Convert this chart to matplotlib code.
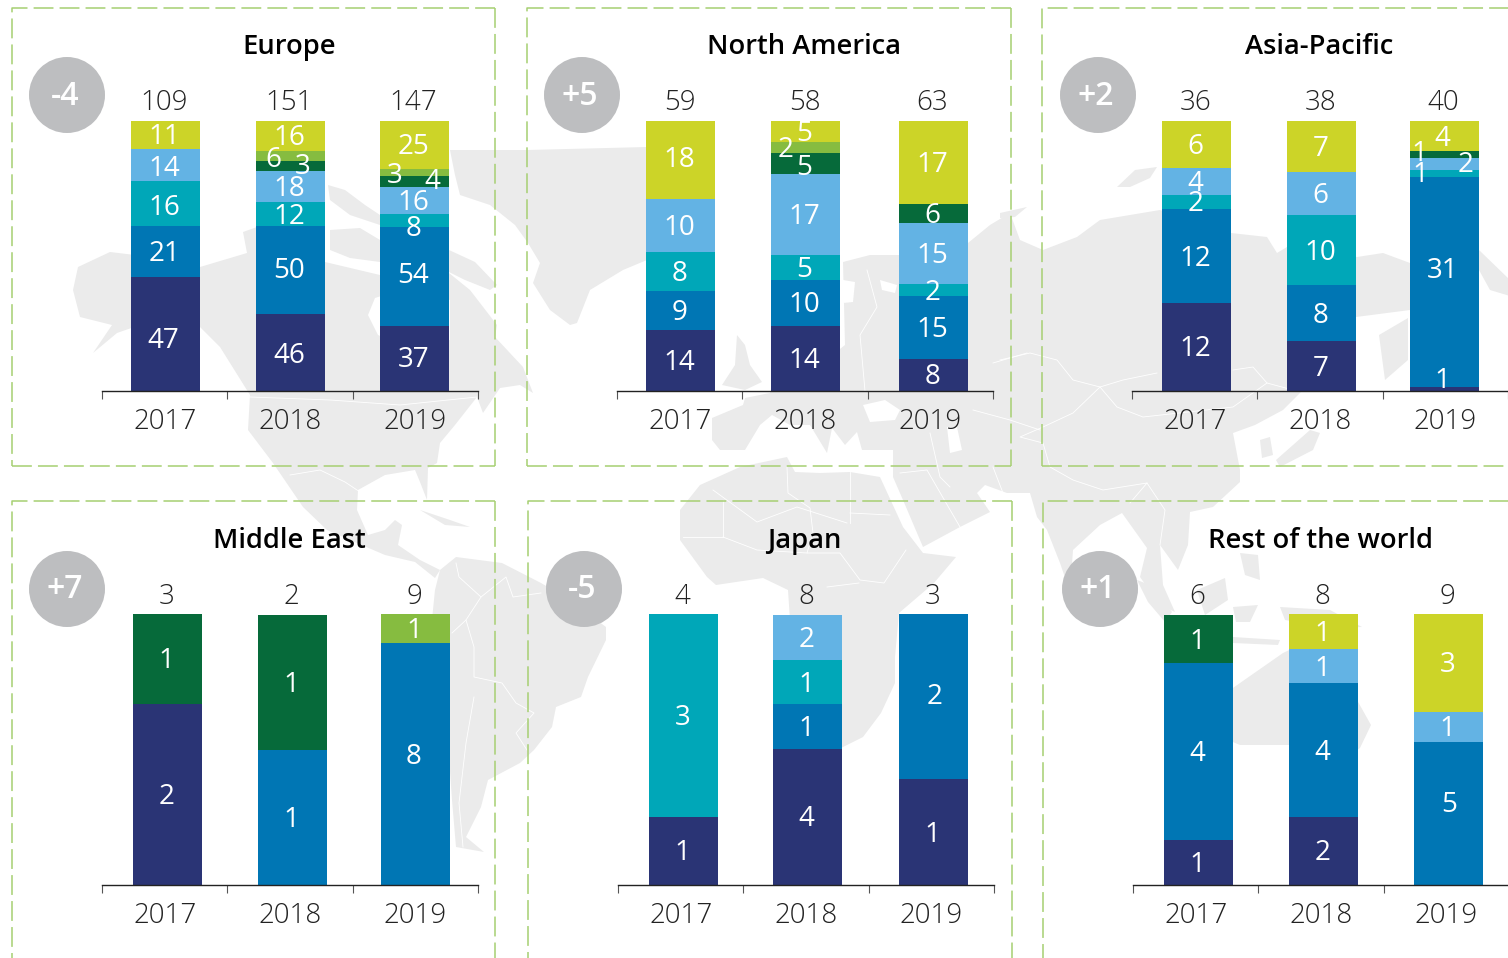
"""Stacked bars per region, 2017-2019, on a faint world map."""

import matplotlib
matplotlib.use("Agg")
import matplotlib.pyplot as plt
from matplotlib.patches import Circle, Polygon

plt.rcParams["font.family"] = ["Open Sans", "DejaVu Sans"]

W, H = 1508, 958
YEARS = ["2017", "2018", "2019"]
SERIES_COLORS = ["#2a3475", "#0076b4", "#00a7b8", "#63b3e4", "#066a3a", "#86bc40", "#ccd428"]

REGIONS = ["Europe", "North America", "Asia-Pacific", "Middle East", "Japan", "Rest of the world"]
CHANGES = ["-4", "+5", "+2", "+7", "-5", "+1"]

# bar totals per region
EUROPE_TOTALS = [109, 151, 147]
NAMERICA_TOTALS = [59, 58, 63]
ASIA_TOTALS = [36, 38, 40]
MIDEAST_TOTALS = [3, 2, 9]
JAPAN_TOTALS = [4, 8, 3]
REST_TOTALS = [6, 8, 9]

# printed numbers, bottom to top of the stack, 0 = no segment
EUROPE_LABELS = [[47, 21, 16, 14, 0, 0, 11], [46, 50, 12, 18, 3, 6, 16], [37, 54, 8, 16, 4, 3, 25]]
NAMERICA_LABELS = [[14, 9, 8, 10, 0, 0, 18], [14, 10, 5, 17, 5, 2, 5], [8, 15, 2, 15, 6, 0, 17]]
ASIA_LABELS = [[12, 12, 2, 4, 0, 0, 6], [7, 8, 10, 6, 0, 0, 7], [1, 31, 1, 2, 1, 0, 4]]
MIDEAST_LABELS = [[2, 0, 0, 0, 1, 0, 0], [0, 1, 0, 0, 1, 0, 0], [0, 8, 0, 0, 0, 1, 0]]
JAPAN_LABELS = [[1, 0, 3, 0, 0, 0, 0], [4, 1, 1, 2, 0, 0, 0], [1, 2, 0, 0, 0, 0, 0]]
REST_LABELS = [[1, 4, 0, 0, 1, 0, 0], [2, 4, 0, 1, 0, 0, 1], [0, 5, 0, 1, 0, 0, 3]]

# segment height as share of the bar (%)
EUROPE_SHARES = [[42.2, 18.9, 16.7, 11.9, 0, 0, 10.4], [28.5, 32.6, 8.9, 11.5, 3.7, 3.7, 11.1], [24.1, 36.7, 4.8, 10.0, 4.1, 2.6, 17.8]]
NAMERICA_SHARES = [[22.6, 14.4, 14.4, 19.6, 0, 0, 28.9], [24.1, 17.0, 9.3, 30.0, 7.8, 4.1, 7.8], [11.9, 23.3, 4.4, 22.6, 7.0, 0, 30.7]]
ASIA_SHARES = [[32.6, 34.8, 5.2, 10.0, 0, 0, 17.4], [18.5, 20.7, 25.9, 15.9, 0, 0, 18.9], [1.5, 77.8, 2.6, 4.4, 2.6, 0, 11.1]]
MIDEAST_SHARES = [[66.8, 0, 0, 0, 33.2, 0, 0], [0, 49.8, 0, 0, 49.8, 0, 0], [0, 89.3, 0, 0, 0, 10.7, 0]]
JAPAN_SHARES = [[25.1, 0, 74.9, 0, 0, 0, 0], [50.2, 16.6, 16.2, 16.6, 0, 0, 0], [39.1, 60.9, 0, 0, 0, 0, 0]]
REST_SHARES = [[16.6, 65.3, 0, 0, 17.7, 0, 0], [25.1, 49.4, 0, 12.5, 0, 0, 12.9], [0, 52.8, 0, 11.1, 0, 0, 36.2]]

TOTALS = [EUROPE_TOTALS, NAMERICA_TOTALS, ASIA_TOTALS, MIDEAST_TOTALS, JAPAN_TOTALS, REST_TOTALS]
LABELS = [EUROPE_LABELS, NAMERICA_LABELS, ASIA_LABELS, MIDEAST_LABELS, JAPAN_LABELS, REST_LABELS]
SHARES = [EUROPE_SHARES, NAMERICA_SHARES, ASIA_SHARES, MIDEAST_SHARES, JAPAN_SHARES, REST_SHARES]

# layout, in pixels of the final image
AXIS_LEFT = [102, 617, 1132, 102, 618, 1133]
AXIS_BASE = [391, 391, 391, 885, 885, 885]
BAR_PX = [270, 270, 270, 271, 271, 271]
SLOT_PX = 125.33
BAR_SHIFT = [
    [0.007, 0.004, -0.007], [0.007, 0.004, 0.025], [0.015, 0.012, -0.007],
    [0.023, 0.020, 0.001], [0.023, 0.012, 0.017], [0.023, 0.020, 0.017],
]
TITLE_X = [289, 804, 1319, 289, 804, 1321]
BADGES = [(67, 95), (582, 95), (1098, 95), (67, 589), (584, 589), (1100, 589)]
FRAME_X = [(12, 495), (527, 1011), (1042, 1530), (12, 495), (528, 1012), (1043, 1530)]
FRAME_Y = [(8, 466), (8, 466), (8, 466), (501, 990), (501, 990), (501, 990)]

# hand placed labels: (region, bar, series) -> dx, dy px from the segment middle
NUDGES = {
    (0, 0, 0): (-2, 4), (0, 1, 0): (-1, 1), (0, 2, 0): (-1, -1), (0, 0, 2): (-1, 2), (0, 0, 3): (-1, 2),
    (0, 1, 5): (-17, 2), (0, 1, 4): (12, -1), (0, 2, 1): (-1, -3), (0, 1, 1): (-1, -2),
    (0, 2, 5): (-20, 1), (0, 2, 4): (18, -2), (0, 2, 2): (-1, 6),
    (1, 0, 6): (-1, -3), (1, 1, 5): (-20, 0), (1, 1, 4): (-1, 2), (1, 1, 6): (-1, 0),
    (2, 2, 4): (-25, -3), (2, 2, 3): (21, -1), (2, 2, 2): (-24, -1),
    (2, 2, 0): (-2, -10), (2, 2, 6): (-2, 1), (2, 2, 1): (-2, -13),
    (3, 2, 1): (-2, -9), (5, 2, 1): (1, -11), (4, 2, 1): (1, -2),
}

# rough land masses for the backdrop, image pixels
LAND = [
    # Alaska, Canada, USA, Mexico, Central America
    [(73, 290), (78, 267), (110, 252), (160, 258), (200, 267), (247, 253), (243, 232), (257, 227), (300, 232),
     (325, 262), (380, 275), (449, 273), (470, 290), (497, 325), (495, 337), (523, 367), (533, 393), (520, 385),
     (500, 388), (483, 413), (477, 397), (455, 425), (440, 443), (437, 463), (428, 468), (427, 500), (420, 482),
     (415, 470), (385, 475), (358, 490), (357, 510), (368, 535), (385, 530), (395, 520), (402, 525), (398, 545),
     (420, 560), (440, 570), (435, 578), (415, 562), (385, 555), (350, 540), (327, 530), (303, 507), (273, 463),
     (248, 430), (250, 395), (220, 347), (200, 327), (175, 312), (140, 325), (117, 333), (93, 353), (112, 325),
     (80, 317)],
    # Arctic islands
    [(328, 185), (345, 190), (365, 205), (380, 215), (380, 225), (350, 215), (330, 200)],
    [(330, 230), (360, 228), (380, 240), (380, 262), (350, 258), (330, 250)],
    [(449, 250), (475, 262), (497, 285), (490, 290), (465, 280), (449, 272)],
    # Ellesmere and Greenland
    [(450, 150), (527, 150), (647, 147), (660, 200), (647, 260), (623, 270), (590, 290), (577, 323), (570, 325),
     (550, 310), (533, 283), (540, 263), (528, 243), (515, 225), (490, 205), (460, 195), (455, 175)],
    # Cuba
    [(420, 510), (450, 520), (470, 527), (445, 525)],
    # South America
    [(435, 590), (440, 570), (456, 557), (502, 563), (541, 583), (570, 600), (606, 627), (606, 640), (588, 677),
     (581, 697), (556, 707), (552, 727), (534, 750), (520, 763), (488, 780), (481, 807), (466, 837), (484, 852),
     (456, 847), (452, 800), (445, 700), (430, 640)],
    # UK
    [(737, 335), (745, 345), (750, 365), (762, 382), (745, 390), (722, 385), (735, 365)],
    # Eurasia
    [(712, 418), (743, 405), (745, 398), (770, 393), (775, 372), (820, 365), (845, 345), (843, 262), (870, 255),
     (905, 255), (968, 243), (990, 225), (1010, 213), (1020, 240), (1043, 250), (1077, 237), (1100, 220),
     (1160, 210), (1231, 233), (1267, 237), (1277, 253), (1287, 247), (1357, 257), (1383, 253), (1410, 263),
     (1410, 310), (1356, 317), (1345, 340), (1300, 393), (1283, 410), (1255, 425), (1233, 433), (1240, 470),
     (1240, 482), (1213, 507), (1190, 512), (1188, 545), (1178, 570), (1160, 545), (1163, 585), (1175, 612),
     (1160, 605), (1140, 577), (1147, 548), (1122, 513), (1100, 525), (1073, 550), (1070, 592), (1060, 563),
     (1047, 530), (1037, 517), (1030, 493), (1007, 493), (985, 485), (977, 493), (990, 512), (960, 527),
     (923, 547), (903, 500), (893, 477), (893, 450), (862, 450), (857, 432), (845, 445), (832, 428), (827, 453),
     (810, 425), (790, 425), (772, 415), (760, 425), (745, 450), (720, 450), (712, 440)],
    # Africa
    [(680, 510), (700, 485), (740, 467), (787, 457), (795, 472), (820, 473), (850, 472), (880, 477), (903, 527),
     (923, 553), (956, 557), (934, 583), (899, 613), (895, 657), (895, 683), (881, 713), (863, 737), (841, 748),
     (815, 745), (800, 690), (790, 620), (788, 590), (763, 578), (716, 585), (707, 577), (680, 540)],
    # Novaya Zemlya, Svalbard, Chukotka, Kamchatka
    [(1117, 187), (1135, 170), (1157, 167), (1150, 178), (1130, 187)],
    [(1000, 213), (1027, 207), (1015, 217), (1000, 218)],
    [(1479, 250), (1510, 280), (1510, 296), (1490, 290), (1479, 270)],
    [(1379, 335), (1408, 318), (1408, 360), (1385, 380)],
    # Japan, Korea
    [(1310, 430), (1320, 433), (1313, 450), (1280, 467), (1276, 460)],
    [(1260, 440), (1270, 437), (1273, 455), (1262, 458)],
    # Sumatra, Borneo, Java, Sulawesi, Philippines, New Guinea
    [(1137, 580), (1150, 585), (1172, 612), (1165, 622), (1148, 602)],
    [(1197, 590), (1225, 578), (1228, 600), (1205, 615)],
    [(1233, 637), (1280, 640), (1278, 645), (1233, 643)],
    [(1233, 607), (1258, 605), (1250, 622), (1236, 622)],
    [(1240, 553), (1258, 555), (1260, 580), (1245, 575)],
    [(1280, 607), (1330, 610), (1362, 627), (1330, 628), (1285, 620)],
    # Australia
    [(1230, 690), (1283, 653), (1310, 640), (1330, 642), (1345, 680), (1357, 700), (1371, 725), (1360, 748),
     (1335, 765), (1290, 745), (1240, 745), (1228, 740)],
]

# inland water punched back out in white
WATER = [
    [(368, 315), (375, 298), (400, 290), (450, 300), (450, 340), (400, 345), (378, 335)],
    [(863, 405), (885, 400), (900, 410), (895, 420), (870, 422)],
    [(947, 427), (957, 427), (962, 450), (950, 453)],
    [(880, 280), (897, 285), (895, 293), (882, 290)],
    [(843, 280), (855, 282), (853, 302), (843, 303)],
]

# a handful of country borders
BORDERS = [
    [(250, 397), (330, 400), (400, 405), (477, 397)],
    [(290, 475), (320, 470), (345, 482), (360, 492)],
    [(713, 490), (757, 522), (797, 507), (847, 523)],
    [(850, 472), (850, 523)],
    [(850, 513), (890, 515)],
    [(787, 467), (788, 493), (810, 508), (813, 533), (807, 553), (840, 553), (860, 580), (884, 583), (906, 550)],
    [(683, 537), (723, 537), (723, 500)],
    [(723, 537), (757, 550), (807, 553)],
    [(859, 583), (827, 587)],
    [(456, 563), (459, 577), (481, 597), (466, 620), (452, 633)],
    [(481, 597), (506, 577), (513, 597), (541, 593)],
    [(466, 620), (474, 647), (474, 677), (502, 683), (516, 703), (534, 713), (516, 733), (527, 750)],
    [(474, 697), (466, 743), (459, 803), (463, 847)],
    [(1000, 360), (1030, 353), (1057, 360), (1073, 380), (1100, 387), (1123, 380), (1157, 373)],
    [(1233, 370), (1253, 367), (1267, 383), (1293, 390)],
    [(1100, 387), (1117, 407), (1143, 417), (1233, 407), (1267, 383)],
    [(1100, 387), (1073, 413), (1043, 427), (1020, 437), (1043, 443), (1050, 467), (1073, 480), (1103, 490),
     (1147, 483), (1130, 503)],
    [(1147, 483), (1165, 510), (1160, 545)],
    [(867, 270), (877, 307), (860, 335), (865, 391)],
    [(993, 363), (1027, 353)],
    [(930, 433), (940, 477), (950, 487)],
    [(973, 410), (1010, 420), (1040, 430)],
    [(993, 467), (1003, 493)],
    [(900, 473), (927, 470), (960, 527)],
]


def px_axes(fig):
    """Full figure axes that talks in image pixels, y pointing down."""
    ax = fig.add_axes([0, 0, 1, 1], zorder=0)
    ax.set_xlim(0, W)
    ax.set_ylim(H, 0)
    ax.axis("off")
    return ax


def draw_backdrop(ax):
    for pts in LAND:
        ax.add_patch(Polygon(pts, closed=True, facecolor="#ebebeb", edgecolor="none", zorder=1))
    for pts in WATER:
        ax.add_patch(Polygon(pts, closed=True, facecolor="white", edgecolor="none", zorder=1.1))
    for pts in BORDERS:
        ax.plot(*zip(*pts), color="white", lw=0.6, zorder=1.2)
    dash = (0, (13, 4))
    green = "#a6cf72"
    for (x0, x1), (y0, y1) in zip(FRAME_X, FRAME_Y):
        ax.plot([x1, x0, x0], [y0, y0, y1], color=green, lw=1.1, ls=dash, zorder=2)
        ax.plot([x1, x1], [y0, y1], color=green, lw=1.1, ls=dash, zorder=2)
        if y1 < H:
            ax.plot([x0, x1], [y1, y1], color=green, lw=1.1, ls=dash, zorder=2)
    for (cx, cy), txt in zip(BADGES, CHANGES):
        ax.add_patch(Circle((cx, cy), 38, facecolor="#bdbec0", edgecolor="none", zorder=3))
        ax.text(cx - 2, cy + 1, txt, color="white", fontsize=23, fontweight="semibold", ha="center", va="center", zorder=4)
    for x, y, name in zip(TITLE_X, [47, 47, 47, 541, 541, 541], REGIONS):
        ax.text(x, y, name, color="black", fontsize=19.7, fontweight="semibold", ha="center", va="center", zorder=4)


def draw_panel(fig, r):
    left, base = AXIS_LEFT[r], AXIS_BASE[r]
    ax = fig.add_axes([left / W, (H - base) / H, 3 * SLOT_PX / W, BAR_PX[r] / H], zorder=1)
    ax.patch.set_alpha(0)
    ax.set_xlim(0, 3)
    ax.set_ylim(0, 100)
    for side in ["left", "right", "top"]:
        ax.spines[side].set_visible(False)
    ax.spines["bottom"].set_linewidth(1.0)
    ax.spines["bottom"].set_color("#222222")
    ax.set_yticks([])
    ax.set_xticks([0, 1, 2, 3], [""] * 4)
    ax.tick_params(axis="x", which="major", length=6, width=0.8, color="#555555")
    ax.set_xticks([0.5, 1.5, 2.5], YEARS, minor=True)
    ax.tick_params(axis="x", which="minor", length=0, pad=12.5, labelsize=20, labelcolor="#222222")
    for tick in ax.get_xticklabels(minor=True):
        tick.set_fontweight("light")

    for b in range(3):
        x = b + 0.5 + BAR_SHIFT[r][b]
        bottom = 0
        for s, share in enumerate(SHARES[r][b]):
            if share == 0:
                continue
            ax.bar(x, share, 0.552, bottom=bottom, color=SERIES_COLORS[s], linewidth=0, zorder=2, clip_on=False)
            dx, dy = NUDGES.get((r, b, s), (-1, 0))
            ax.annotate(str(LABELS[r][b][s]), (x, bottom + share / 2), xytext=(dx * 0.72, -(dy + 2.5) * 0.72),
                        textcoords="offset points", color="white", fontsize=20, ha="center",
                        va="center", zorder=5, annotation_clip=False)
            bottom += share
        ax.annotate(str(TOTALS[r][b]), (x, 100), xytext=(-1 * 0.72, 17.5 * 0.72), textcoords="offset points",
                    color="#222222", fontsize=20, fontweight="light", ha="center", va="center",
                    annotation_clip=False)


def main():
    fig = plt.figure(figsize=(W / 100, H / 100), dpi=100)
    draw_backdrop(px_axes(fig))
    for r in range(len(REGIONS)):
        draw_panel(fig, r)
    fig.savefig("out.png", dpi=100)


if __name__ == "__main__":
    main()
